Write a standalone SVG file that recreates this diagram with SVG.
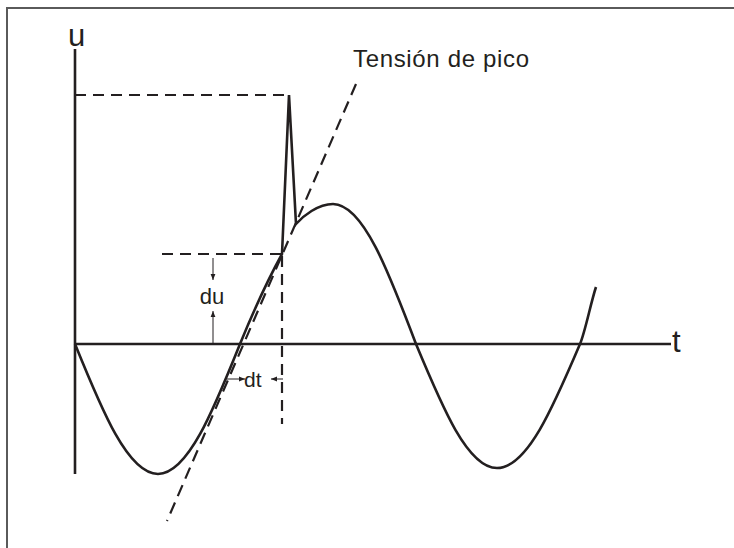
<svg xmlns="http://www.w3.org/2000/svg" width="734" height="548" viewBox="0 0 734 548">
  <defs>
    <style>
      .frame { stroke: #5a5a5a; stroke-width: 2; fill: none; }
      .axis { stroke: #231f20; stroke-width: 2.6; fill: none; }
      .curve { stroke: #231f20; stroke-width: 2.6; fill: none; stroke-linejoin: miter; }
      .dash { stroke: #231f20; stroke-width: 2.2; fill: none; stroke-dasharray: 11 7; }
      .tan { stroke: #231f20; stroke-width: 2.2; fill: none; stroke-dasharray: 12 7; }
      .thin { stroke: #231f20; stroke-width: 1; fill: none; }
      .lbl { font-family: "Liberation Sans", Arial, sans-serif; fill: #231f20; }
    </style>
    <marker id="ah" viewBox="0 0 6 6" refX="6" refY="3" markerWidth="6" markerHeight="6" markerUnits="userSpaceOnUse" orient="auto">
      <path d="M0,0.6 L6,3 L0,5.4 Z" fill="#231f20"/>
    </marker>
  </defs>
  <rect width="734" height="548" fill="#ffffff"/>
  <g id="frame">
    <path class="frame" d="M7,548 L7,8 L734,8"/>
  </g>
  <g id="axes">
    <line class="axis" x1="75" y1="49" x2="75" y2="474"/>
    <line class="axis" x1="75" y1="344" x2="671" y2="344"/>
    <text class="lbl" x="68" y="46" font-size="31">u</text>
    <text class="lbl" x="672" y="352" font-size="31">t</text>
  </g>
  <g id="guides">
    <line class="dash" x1="75" y1="95" x2="288" y2="95"/>
    <line class="dash" x1="162" y1="254" x2="283" y2="254"/>
    <line class="dash" x1="282" y1="256" x2="282" y2="424"/>
    <line class="tan" x1="356" y1="84" x2="167" y2="521"/>
  </g>
  <g id="curve">
    <path class="curve" d="M75,344 C102,410.6 128,474 158,474 C187.7,474 213.3,410.6 240,344 C254,309.8 268,279.3 282,254 L289,95 L296,224 C303,216 318,204 333,204 C363,204 388.9,272.3 416,344 C442.4,407.5 467.7,468 497,468 C527,468 553,407.5 580,344 C585.3,331.5 590.7,303 596,287"/>
  </g>
  <g id="du">
    <line class="thin" x1="213" y1="258" x2="213" y2="280" marker-end="url(#ah)"/>
    <line class="thin" x1="213" y1="343" x2="213" y2="311" marker-end="url(#ah)"/>
    <text class="lbl" x="212" y="304" font-size="22" text-anchor="middle">du</text>
  </g>
  <g id="dt">
    <line class="thin" x1="227" y1="379" x2="245" y2="379" marker-end="url(#ah)"/>
    <line class="thin" x1="283" y1="379" x2="271" y2="379" marker-end="url(#ah)"/>
    <text class="lbl" x="244" y="387" font-size="21">dt</text>
  </g>
  <g id="title">
    <text class="lbl" x="353" y="67" font-size="24" textLength="176">Tensión de pico</text>
  </g>
</svg>
